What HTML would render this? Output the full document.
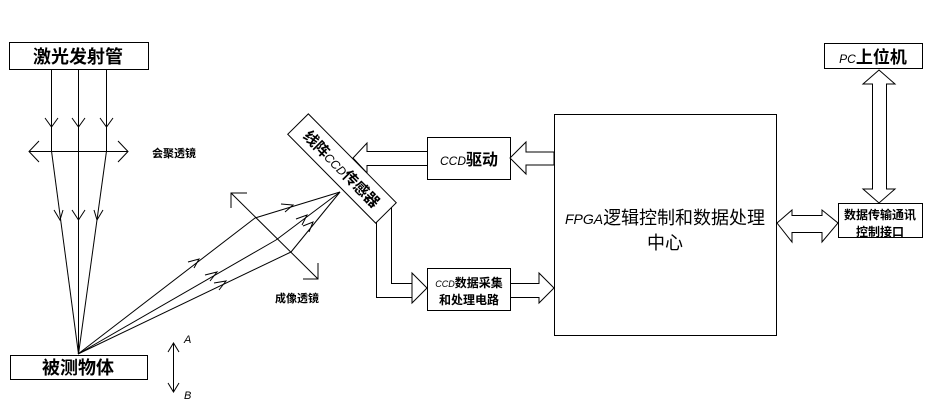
<!DOCTYPE html>
<html><head><meta charset="utf-8"><style>
body{margin:0;background:#fff;width:947px;height:413px;overflow:hidden}
svg{display:block}
text{font-family:"Liberation Sans","Noto Sans CJK SC",sans-serif;fill:#000}
.b{font-weight:bold}
</style></head><body>
<svg width="947" height="413" viewBox="0 0 947 413" xmlns="http://www.w3.org/2000/svg">
<g fill="none" stroke="#000" stroke-width="1">
<!-- top box -->
<rect x="9.5" y="42.5" width="139" height="27"/>
<rect x="10.5" y="355.5" width="137" height="24"/>
<!-- vertical rays -->
<line x1="51.5" y1="70" x2="51.5" y2="151"/>
<line x1="78.5" y1="70" x2="78.5" y2="151"/>
<line x1="106.5" y1="70" x2="106.5" y2="151"/>
<polyline points="45,118 51.5,127 58,118"/>
<polyline points="72,118 78.5,127 85,118"/>
<polyline points="100,118 106.5,127 113,118"/>
<!-- converging lens -->
<line x1="29" y1="151.5" x2="128" y2="151.5"/>
<polyline points="39,141 29,151.5 39,162"/>
<polyline points="118,141 128,151.5 118,162"/>
<line x1="51.5" y1="151" x2="78.5" y2="354"/>
<line x1="78.5" y1="151" x2="78.5" y2="354"/>
<line x1="106.5" y1="151" x2="78.5" y2="354"/>
<polyline points="54,210 60,220 63,210"/>
<polyline points="72,210 78.5,220 85,210"/>
<polyline points="94,210 97,220 103,210"/>
<!-- imaging lens -->
<line x1="231" y1="193" x2="318" y2="279"/>
<polyline points="247,193 231,193 231,208"/>
<polyline points="318,263 318,279 303,279"/>
<!-- rays to sensor -->
<line x1="78" y1="354" x2="255" y2="218"/><line x1="255" y1="218" x2="340" y2="192"/>
<line x1="78" y1="354" x2="276" y2="240"/><line x1="276" y1="240" x2="340" y2="192"/>
<line x1="78" y1="354" x2="291" y2="252"/><line x1="291" y1="252" x2="340" y2="192"/>
<polyline points="188,262 199,259 194,268"/>
<polyline points="205,275 217,272 210,281"/>
<polyline points="214,283 226,281 219,290"/>
<polyline points="281,204 293,205 285,212"/>
<polyline points="296,219 307,215 302,225"/>
<polyline points="303,226 313,222 309,232"/>
<!-- A B arrow -->
<line x1="173.5" y1="343" x2="173.5" y2="392"/>
<polyline points="168,352 173.5,343 179,352"/>
<polyline points="168,383 173.5,392 179,383"/>
<!-- CCD drive box -->
<rect x="427.5" y="137.5" width="83" height="42" fill="#fff"/>
<polygon points="554,152 526,152 526,142 510,158 526,174 526,165 554,165" fill="#fff"/>
<polyline points="427,151.5 367,151.5 367,143 353,158 367,173 367,165.5 427,165.5"/>
<!-- sensor to data box -->
<polyline points="376.5,210 376.5,297.5 412,297.5"/>
<polyline points="391.5,200 391.5,283.5 412,283.5"/>
<polygon points="412,273 427,288 412,303"/>
<rect x="427.5" y="268.5" width="83" height="42" fill="#fff"/>
<polyline points="510,283.5 539,283.5 539,273 554,288 539,303 539,297.5 510,297.5"/>
<!-- FPGA -->
<rect x="554.5" y="114.5" width="222" height="221"/>
<!-- horizontal double arrow -->
<polygon points="777,223 792,210 792,215.5 822,215.5 822,210 838,223 822,242 822,232.5 792,232.5 792,242" fill="#fff"/>
<rect x="838.5" y="203.5" width="84" height="34" fill="#fff"/>
<rect x="824.5" y="43.5" width="98" height="25"/>
<polygon points="879,70 895,84 886.5,84 886.5,189 895,189 879,203 863,189 872.5,189 872.5,84 863,84" fill="#fff"/>
<!-- sensor -->
<g transform="translate(342,168.5) rotate(45.3)">
<rect x="-62.5" y="-14.5" width="125" height="29" fill="#fff"/>
</g>
</g>
<text x="78" y="63" font-size="18" text-anchor="middle" class="b">激光发射管</text>
<text x="78" y="374" font-size="18" text-anchor="middle" class="b">被测物体</text>
<text x="152" y="157" font-size="11" class="b">会聚透镜</text>
<text x="275" y="302" font-size="11" class="b">成像透镜</text>
<text x="184" y="343" font-size="11" font-style="italic">A</text>
<text x="184" y="399" font-size="11" font-style="italic">B</text>
<g transform="translate(342,168.5) rotate(45.3)"><text x="0" y="6" font-size="15" text-anchor="middle" class="b">线阵<tspan font-weight="normal" font-style="italic" font-size="12">CCD</tspan>传感器</text></g>
<text x="469" y="165" font-size="16" text-anchor="middle"><tspan font-style="italic" font-size="12">CCD</tspan><tspan class="b">驱动</tspan></text>
<text x="469" y="287" font-size="12" text-anchor="middle" class="b"><tspan font-style="italic" font-weight="normal" font-size="9">CCD</tspan>数据采集</text>
<text x="469" y="304" font-size="12" text-anchor="middle" class="b">和处理电路</text>
<text x="665" y="224" font-size="18" text-anchor="middle"><tspan font-style="italic" font-size="14">FPGA</tspan>逻辑控制和数据处理</text>
<text x="665" y="249" font-size="18" text-anchor="middle">中心</text>
<text x="880" y="219" font-size="12" text-anchor="middle" class="b">数据传输通讯</text>
<text x="880" y="236" font-size="12" text-anchor="middle" class="b">控制接口</text>
<text x="873" y="63" font-size="17" text-anchor="middle"><tspan font-style="italic" font-size="12">PC</tspan><tspan class="b">上位机</tspan></text>
</svg>
</body></html>
